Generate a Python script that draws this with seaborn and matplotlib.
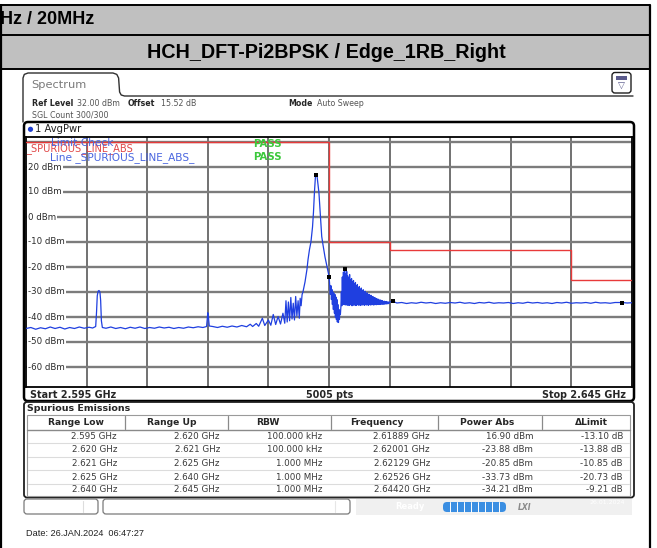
import matplotlib
matplotlib.use("Agg")
import matplotlib.pyplot as plt
import seaborn as sns
import pandas as pd
from matplotlib.patches import FancyBboxPatch, Rectangle, Circle

sns.set_theme(style="white")
plt.rcParams['font.family'] = ['DejaVu Sans']

# ---------------- data ----------------
title_top = "Hz / 20MHz"
title_sub = "HCH_DFT-Pi2BPSK / Edge_1RB_Right"
ref_level_dbm = 32.0
bottom_dbm = -68.0
start_mhz = 2595.0
stop_mhz = 2645.0
x_grid_mhz = [2600, 2605, 2610, 2615, 2620, 2625, 2630, 2635, 2640]
ytick_dbm = [30, 20, 10, 0, -10, -20, -30, -40, -50, -60]
ytick_labels = ["20 dBm", "10 dBm", "0 dBm", "-10 dBm", "-20 dBm",
                "-30 dBm", "-40 dBm", "-50 dBm", "-60 dBm"]
ytick_label_dbm = [20, 10, 0, -10, -20, -30, -40, -50, -60]

range_low_ghz = [2.595, 2.620, 2.621, 2.625, 2.640]
range_up_ghz = [2.620, 2.621, 2.625, 2.640, 2.645]
rbw_text = ["100.000 kHz", "100.000 kHz", "1.000 MHz", "1.000 MHz", "1.000 MHz"]
peak_freq_ghz = [2.61889, 2.62001, 2.62129, 2.62526, 2.64420]
peak_power_dbm = [16.90, -23.88, -20.85, -33.73, -34.21]
delta_limit_db = [-13.10, -13.88, -10.85, -20.73, -9.21]
limit_dbm = [30, -10, -10, -13, -25]

trace_freq_mhz = [
    2595.0, 2595.4, 2595.8, 2596.2, 2596.6, 2597.0, 2597.4, 2597.8, 2598.2, 2598.6,
    2599.0, 2599.4, 2599.8, 2600.2, 2600.5, 2600.75,
    2600.82, 2600.88, 2600.95, 2601.02, 2601.10, 2601.16, 2601.22, 2601.30,
    2601.6, 2602.0, 2602.4, 2602.8, 2603.2, 2603.6, 2604.0, 2604.4, 2604.8, 2605.2,
    2605.6, 2606.0, 2606.4, 2606.8, 2607.2, 2607.6, 2608.0, 2608.4, 2608.8, 2609.2,
    2609.6, 2609.9, 2610.00, 2610.06, 2610.12,
    2610.4, 2610.8, 2611.2, 2611.6, 2612.0, 2612.4, 2612.8, 2613.2, 2613.5, 2613.7,
    2614.0, 2614.2, 2614.5, 2614.7, 2615.0, 2615.2, 2615.4, 2615.6, 2615.8, 2616.0,
    2616.2, 2616.35,
    2616.45, 2616.55, 2616.65, 2616.75, 2616.85, 2616.95, 2617.05, 2617.15, 2617.25,
    2617.35, 2617.45, 2617.55, 2617.62, 2617.70, 2617.78,
    2617.85, 2618.02, 2618.18, 2618.27, 2618.39, 2618.51, 2618.64, 2618.72, 2618.80,
    2618.89, 2619.01, 2619.09, 2619.17, 2619.26, 2619.40, 2619.50, 2619.67, 2619.83,
    2620.01,
    2620.07, 2620.11, 2620.16, 2620.20, 2620.24, 2620.28, 2620.32, 2620.36, 2620.40,
    2620.45, 2620.49, 2620.53, 2620.57, 2620.61, 2620.65, 2620.69, 2620.73, 2620.78,
    2620.82, 2620.86, 2620.90, 2620.94, 2620.98, 2621.02, 2621.06, 2621.10, 2621.14,
    2621.19, 2621.23, 2621.29,
    2621.30, 2621.34, 2621.38, 2621.42, 2621.46, 2621.50, 2621.54, 2621.58,
    2621.62, 2621.66, 2621.70, 2621.74, 2621.78, 2621.82, 2621.86, 2621.90,
    2621.94, 2621.98, 2622.02, 2622.06, 2622.10, 2622.14, 2622.18, 2622.22,
    2622.26, 2622.30, 2622.34, 2622.38, 2622.42, 2622.46, 2622.50, 2622.54,
    2622.58, 2622.62, 2622.66, 2622.70, 2622.74, 2622.78, 2622.82, 2622.86,
    2622.90, 2622.94, 2622.98, 2623.02, 2623.06, 2623.10, 2623.14, 2623.18,
    2623.22, 2623.26, 2623.30, 2623.34, 2623.38, 2623.42, 2623.46, 2623.50,
    2623.54, 2623.58, 2623.62, 2623.66, 2623.70, 2623.74, 2623.78, 2623.82,
    2623.86, 2623.90, 2623.94, 2623.98, 2624.02, 2624.06, 2624.10, 2624.14,
    2624.18, 2624.22, 2624.26, 2624.30, 2624.34, 2624.38, 2624.42, 2624.46,
    2624.50, 2624.54, 2624.58, 2624.62, 2624.66, 2624.70, 2624.74, 2624.78,
    2624.82, 2624.86, 2624.90, 2624.94, 2625.00,
    2625.26, 2625.6, 2626.0, 2626.4, 2626.8, 2627.2, 2627.6, 2628.0, 2628.4, 2628.8,
    2629.2, 2629.6, 2630.0, 2630.4, 2630.8, 2631.2, 2631.6, 2632.0, 2632.4, 2632.8,
    2633.2, 2633.6, 2634.0, 2634.4, 2634.8, 2635.2, 2635.6, 2636.0, 2636.4, 2636.8,
    2637.2, 2637.6, 2638.0, 2638.4, 2638.8, 2639.2, 2639.6, 2640.0, 2640.4, 2640.8,
    2641.2, 2641.6, 2642.0, 2642.4, 2642.8, 2643.2, 2643.6, 2644.2, 2644.6, 2645.0,
]
trace_dbm = [
    -44.6, -44.2, -44.9, -44.3, -44.7, -44.0, -44.6, -44.1, -44.8, -44.2,
    -44.6, -44.0, -44.5, -44.1, -44.4, -43.8,
    -38.0, -31.5, -29.7, -29.4, -30.0, -33.5, -41.5, -44.2,
    -44.5, -44.0, -44.6, -44.2, -44.7, -44.1, -44.5, -44.0, -44.6, -44.2,
    -44.5, -44.0, -44.4, -44.1, -44.6, -44.2, -44.5, -44.0, -44.3, -43.9,
    -44.2, -43.8, -38.3, -40.5, -43.6,
    -43.8, -44.2, -43.7, -44.1, -43.6, -44.0, -43.4, -43.9, -42.9, -43.8,
    -42.6, -43.7, -40.5, -43.4, -41.2, -43.3, -39.0, -43.0, -39.8, -42.8,
    -38.5, -42.5,
    -33.5, -42.0, -34.0, -41.5, -32.2, -40.8, -34.5, -41.2, -31.8, -39.6,
    -33.5, -40.5, -32.5, -35.5, -31.0,
    -30.0, -26.0, -21.0, -17.0, -13.0, -10.0, -4.0, 2.0, 10.0,
    16.9, 16.5, 13.0, 9.7, 3.0, -7.8, -11.0, -16.0, -19.8,
    -23.9,
    -28.0, -31.0, -27.5, -33.0, -29.0, -35.0, -30.0, -37.0, -30.5,
    -38.5, -31.0, -40.0, -32.0, -41.0, -33.0, -42.0, -35.0, -42.2,
    -37.0, -41.0, -38.0, -39.0, -36.0, -30.0, -35.5, -24.0, -34.8,
    -22.0, -35.0, -20.85,
    -21.5, -35.2, -22.8, -35.0, -21.8, -35.3, -23.5, -35.1,
    -24.2, -35.4, -23.0, -35.0, -25.0, -35.2, -24.6, -35.5,
    -26.0, -35.1, -25.4, -35.3, -26.8, -35.0, -26.2, -35.4,
    -27.6, -35.2, -27.0, -35.0, -28.3, -35.3, -27.8, -35.1,
    -29.0, -35.4, -28.4, -35.0, -29.6, -35.2, -29.1, -35.1,
    -30.2, -35.3, -29.7, -35.0, -30.8, -35.2, -30.3, -35.1,
    -31.2, -35.3, -30.9, -35.0, -31.7, -35.2, -31.3, -35.1,
    -32.1, -35.0, -31.8, -35.2, -32.5, -35.1, -32.2, -35.0,
    -32.8, -35.1, -32.6, -34.9, -33.1, -35.0, -32.9, -34.9,
    -33.4, -35.0, -33.2, -34.8, -33.6, -34.9, -33.5, -34.8,
    -33.8, -34.9, -33.7, -34.7, -33.9, -34.8, -33.8, -34.7,
    -34.0, -34.7, -34.0, -34.6, -34.0,
    -33.73, -34.4, -34.2, -34.6, -34.3, -34.5, -34.1, -34.4, -34.2, -34.6,
    -34.3, -34.5, -34.2, -34.4, -34.1, -34.5, -34.3, -34.6, -34.2, -34.4,
    -34.1, -34.5, -34.3, -34.4, -34.2, -34.6, -34.3, -34.5, -34.1, -34.4,
    -34.2, -34.5, -34.3, -34.6, -34.2, -34.4, -34.1, -34.5, -34.3, -34.4,
    -34.2, -34.5, -34.1, -34.4, -34.3, -34.5, -34.2, -34.21, -34.4, -34.3,
]

table_headers = ["Range Low", "Range Up", "RBW", "Frequency", "Power Abs", "\u0394Limit"]

# ---------------- figure ----------------
W, H = 657, 548
fig = plt.figure(figsize=(W / 100, H / 100), dpi=100)
fig.patch.set_facecolor("white")

bg = fig.add_axes([0, 0, 1, 1], zorder=0)
bg.set_xlim(0, W)
bg.set_ylim(H, 0)
bg.axis("off")

# header bands
band = "#c0c0c0"
bg.add_patch(Rectangle((0, 5), 650, 29.5, fc=band, ec="none"))
bg.add_patch(Rectangle((0, 34.5), 650, 34, fc=band, ec="none"))
for yy in (5, 34.5, 68.5):
    bg.plot([0, 650], [yy, yy], color="black", lw=1.4, solid_capstyle="butt")
bg.plot([1, 1], [5, 548], color="black", lw=1.6)
bg.plot([650, 650], [5, 548], color="black", lw=1.6)
bg.text(0, 20, title_top, family="Liberation Sans", fontweight="bold",
        fontsize=13, va="center", ha="left", color="black")
bg.text(326, 52, title_sub, family="Liberation Sans", fontweight="bold",
        fontsize=14.2, va="center", ha="center", color="black")

# spectrum tab outline
tab_x = [23, 23, 24.3, 28, 113, 116.8, 118.6, 119.6, 121.2, 124.5, 633]
tab_y = [122, 78, 74.4, 73, 73, 74.4, 78, 92, 95, 96, 96]
bg.plot(tab_x, tab_y, color="#303030", lw=1.0)
bg.text(31, 84.5, "Spectrum", fontsize=8.2, color="#7a7a7a", va="center")

# icon at right
bg.add_patch(FancyBboxPatch((612, 72.5), 19, 20.5, boxstyle="round,pad=0,rounding_size=3",
                            fc="white", ec="#202020", lw=1.0))
bg.add_patch(Rectangle((615.8, 75.5), 11.5, 4.2, fc="#5a5a8c", ec="none"))
bg.text(621.5, 86.5, "\u25bd", fontsize=6.5, color="#5a5a8c", ha="center", va="center")

# info lines
info_fs = 5.7
bg.text(32, 103, "Ref Level", fontsize=info_fs, fontweight="bold", va="center")
bg.text(77, 103, "32.00 dBm", fontsize=info_fs, color="#555555", va="center")
bg.text(128, 103, "Offset", fontsize=info_fs, fontweight="bold", va="center")
bg.text(161, 103, "15.52 dB", fontsize=info_fs, color="#555555", va="center")
bg.text(288, 103, "Mode", fontsize=info_fs, fontweight="bold", va="center")
bg.text(317, 103, "Auto Sweep", fontsize=info_fs, color="#555555", va="center")
bg.text(32, 115, "SGL Count 300/300", fontsize=info_fs, color="#555555", va="center")

# plot frame
bg.add_patch(FancyBboxPatch((24, 122), 610, 279, boxstyle="round,pad=0,rounding_size=4",
                            fc="white", ec="black", lw=1.8))
bg.add_patch(Circle((30.5, 129.3), 2.6, fc="#1f3fd0", ec="none"))
bg.text(35, 129.3, "1 AvgPwr", fontsize=7.2, va="center", color="#202020")
bg.text(30, 394.5, "Start 2.595 GHz", fontsize=6.9, fontweight="bold", va="center")
bg.text(330, 394.5, "5005 pts", fontsize=6.9, fontweight="bold", va="center", ha="center")
bg.text(626, 394.5, "Stop 2.645 GHz", fontsize=6.9, fontweight="bold", va="center", ha="right")

# ---------------- spectrum axes ----------------
ax = fig.add_axes([26 / W, 1 - 387 / H, 606 / W, 250 / H], zorder=2)
ax.set_facecolor("white")
ax.set_xlim(start_mhz, stop_mhz)
ax.set_ylim(bottom_dbm, ref_level_dbm)
ax.set_xticks(x_grid_mhz)
ax.set_yticks(ytick_dbm)
ax.tick_params(length=0, labelbottom=False, labelleft=False)
ax.xaxis.grid(True, color="#4a4a4a", lw=1.1)
ax.yaxis.grid(True, color="#7c7c7c", lw=1.7)
ax.set_axisbelow(True)
for s in ax.spines.values():
    s.set_color("black")
    s.set_linewidth(1.3)

for v, lab in zip(ytick_label_dbm, ytick_labels):
    ax.text(start_mhz + 0.17, v, lab, fontsize=6.2, color="#2a2a2a", va="center", ha="left",
            bbox=dict(fc="white", ec="none", pad=0.6), zorder=3)

# limit line
lim_x, lim_y = [], []
for lo, up, lv in zip(range_low_ghz, range_up_ghz, limit_dbm):
    lim_x += [lo * 1000, up * 1000]
    lim_y += [lv, lv]
ax.plot(lim_x, lim_y, color="#e83a3a", lw=1.0, zorder=4)

# trace
trace_df = pd.DataFrame({"freq": trace_freq_mhz, "level": trace_dbm})
sns.lineplot(data=trace_df, x="freq", y="level", ax=ax, estimator=None, sort=False,
             color="#1f3fe0", lw=0.9, zorder=5)
peaks_df = pd.DataFrame({"freq": [f * 1000 for f in peak_freq_ghz], "level": peak_power_dbm})
sns.scatterplot(data=peaks_df, x="freq", y="level", ax=ax, marker="s", s=11,
                color="black", edgecolor="black", linewidth=0, zorder=6)
ax.set_xlabel("")
ax.set_ylabel("")

# limit-check texts (pixel coordinates) -- "Limit Check" sits over the red line name,
# as on the instrument display
ax.text(26.5, 148.5, "_SPURIOUS_LINE_ABS", transform=bg.transData, fontsize=7.1,
        color="#e04848", va="center", zorder=7)
ax.text(51, 143.5, "Limit Check", transform=bg.transData, fontsize=7.6,
        color="#4a66e0", va="center", zorder=8)
ax.text(50, 157.8, "Line _SPURIOUS_LINE_ABS_", transform=bg.transData, fontsize=7.6,
        color="#4a66e0", va="center", zorder=8)
ax.text(253, 144, "PASS", transform=bg.transData, fontsize=7.3, fontweight="bold",
        color="#3cc83c", va="center", zorder=8)
ax.text(253, 157.5, "PASS", transform=bg.transData, fontsize=7.3, fontweight="bold",
        color="#3cc83c", va="center", zorder=8)

# ---------------- table ----------------
bg.add_patch(FancyBboxPatch((24, 402), 610, 95.5, boxstyle="round,pad=0,rounding_size=3",
                            fc="white", ec="#202020", lw=1.3))
bg.text(27, 408.5, "Spurious Emissions", fontsize=6.8, fontweight="bold", va="center")
bg.add_patch(Rectangle((27, 415), 603, 81, fc="white", ec="#9a9a9a", lw=0.8))
col_sep = [125, 228, 331, 438, 542]
hdr_cx = [76, 172, 268, 377, 487, 591]
val_rx = [117, 220, 322, 430, 533, 623]
bg.plot([27, 630], [429.5, 429.5], color="#8a8a8a", lw=1.0)
for xs in col_sep:
    bg.plot([xs, xs], [416, 429], color="#8a8a8a", lw=0.9)
for cx, h in zip(hdr_cx, table_headers):
    bg.text(cx, 422.5, h, fontsize=6.6, fontweight="bold", ha="center", va="center")
row_y = [436.5, 450, 463.5, 477, 490]
for ry in [443.2, 456.7, 470.2, 483.6]:
    bg.plot([28, 629], [ry, ry], color="#dcdcdc", lw=0.8)
for i, ry in enumerate(row_y):
    cells = [f"{range_low_ghz[i]:.3f} GHz", f"{range_up_ghz[i]:.3f} GHz", rbw_text[i],
             f"{peak_freq_ghz[i]:.5f} GHz", f"{peak_power_dbm[i]:.2f} dBm",
             f"{delta_limit_db[i]:.2f} dB"]
    for rx, c in zip(val_rx, cells):
        bg.text(rx, ry, c, fontsize=6.3, ha="right", va="center", color="#3a3a3a")

# ---------------- status bar ----------------
bg.add_patch(FancyBboxPatch((24, 499), 74, 15, boxstyle="round,pad=0,rounding_size=3",
                            fc="white", ec="#7a7a7a", lw=0.9))
bg.plot([83, 83], [501, 512], color="#dddddd", lw=0.8)
bg.add_patch(FancyBboxPatch((103, 499), 247, 15, boxstyle="round,pad=0,rounding_size=3",
                            fc="white", ec="#7a7a7a", lw=0.9))
bg.plot([335, 335], [501, 512], color="#e6e6e6", lw=0.8)
bg.add_patch(Rectangle((356, 498.5), 276, 16, fc="#f0f0f0", ec="none"))
bg.text(395, 506.5, "Ready", fontsize=6, color="white", fontweight="bold", va="center")
bg.add_patch(FancyBboxPatch((443, 502), 63, 10, boxstyle="round,pad=0,rounding_size=4",
                            fc="#3a8ee2", ec="none"))
for k in range(1, 9):
    bg.plot([443 + k * 7, 443 + k * 7], [502, 512], color="white", lw=0.7)
bg.text(518, 507, "LXI", fontsize=5.5, color="#8a8a8a", fontweight="bold",
        style="italic", va="center")
bg.text(590, 502, "26.01.2024", fontsize=4.5, color="white", va="center")

bg.text(26, 533, "Date: 26.JAN.2024  06:47:27", family="Liberation Sans", fontsize=6.6,
        color="#222222", va="center")

fig.savefig("out.png", dpi=100, facecolor="white")
